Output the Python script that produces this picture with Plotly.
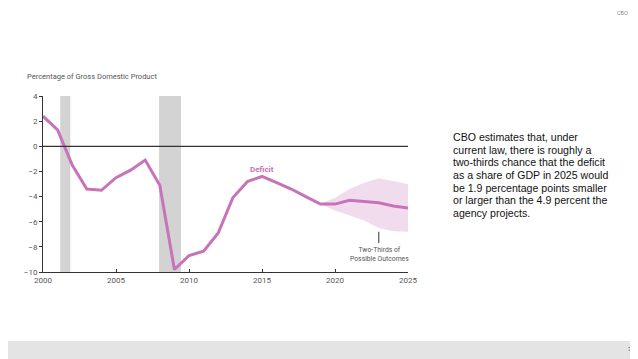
import plotly.graph_objects as go

years = list(range(2000, 2026))
deficit = [2.4, 1.3, -1.5, -3.4, -3.5, -2.5, -1.9, -1.1, -3.1, -9.8,
           -8.7, -8.35, -6.9, -4.1, -2.8, -2.4, -2.9, -3.4, -4.0, -4.6,
           -4.6, -4.3, -4.4, -4.5, -4.75, -4.9]
band_years = [2019, 2020, 2021, 2022, 2023, 2024, 2025]
band_upper = [-4.6, -4.1, -3.4, -2.9, -2.55, -2.75, -3.0]
band_lower = [-4.6, -5.1, -5.5, -5.9, -6.5, -6.75, -6.8]
recessions = [(2001.18, 2001.87), (2007.95, 2009.45)]
body_lines = ["CBO estimates that, under",
              "current law, there is roughly a",
              "two-thirds chance that the deficit",
              "as a share of GDP in 2025 would",
              "be 1.9 percentage points smaller",
              "or larger than the 4.9 percent the",
              "agency projects."]

pink = "#c873b9"
fig = go.Figure()

for x0, x1 in recessions:
    fig.add_shape(type="rect", xref="x", yref="y", x0=x0, x1=x1, y0=-10, y1=4,
                  fillcolor="#d3d3d3", line_width=0, layer="below")

fig.add_trace(go.Scatter(x=band_years, y=band_upper, mode="lines",
                         line=dict(width=0), showlegend=False, hoverinfo="skip"))
fig.add_trace(go.Scatter(x=band_years, y=band_lower, mode="lines", fill="tonexty",
                         fillcolor="rgba(232,196,226,0.6)", line=dict(width=0),
                         showlegend=False, hoverinfo="skip"))
fig.add_trace(go.Scatter(x=years, y=deficit, mode="lines",
                         line=dict(color=pink, width=3), showlegend=False))

fig.add_hline(y=0, line=dict(color="#333333", width=1.2))

tickfont = dict(family="Roboto", size=8, color="#555555")
# page body has an 8px margin: figure is shrunk so it still fits the window
W, H = 630, 351
L, R, T, B = 35, 230, 88, 87
PH = H - T - B
fig.update_layout(
    width=W, height=H,
    margin=dict(l=L, r=R, t=T, b=B),
    paper_bgcolor="white", plot_bgcolor="white",
    xaxis=dict(range=[2000, 2025], tickvals=[2000, 2005, 2010, 2015, 2020, 2025],
               showgrid=False, zeroline=False, showline=True, linecolor="#333333",
               linewidth=1, ticks="inside", ticklen=3, tickcolor="#333333",
               tickfont=tickfont),
    yaxis=dict(range=[-10, 4], tickvals=[4, 2, 0, -2, -4, -6, -8, -10],
               ticktext=["4", "2", "0", "−2", "−4", "−6", "−8", "−10"],
               showgrid=False, zeroline=False, showline=True, linecolor="#333333",
               linewidth=1, ticks="outside", ticklen=3, tickcolor="#333333",
               tickfont=tickfont),
)

def py(px_from_plot_top):
    return 1 - px_from_plot_top / PH

fig.add_annotation(xref="paper", yref="paper", x=-18 / 365, y=py(-20), xanchor="left",
                   yanchor="middle", showarrow=False,
                   text="Percentage of Gross Domestic Product",
                   font=dict(family="Roboto", size=7.5, color="#555555"))
fig.add_annotation(x=2015, y=-1.85, xref="x", yref="y", showarrow=False,
                   text="<b>Deficit</b>", font=dict(family="Roboto", size=8, color=pink))
fig.add_annotation(x=2023.05, y=-8.6, xref="x", yref="y", showarrow=False,
                   text="Two-Thirds of<br>Possible Outcomes", align="center",
                   font=dict(family="Roboto", size=6.8, color="#555555"))
fig.add_shape(type="line", xref="x", yref="y", x0=2023, x1=2023, y0=-6.8, y1=-7.7,
              line=dict(color="#333333", width=1))

for i, line in enumerate(body_lines):
    fig.add_annotation(xref="paper", yref="paper", x=408 / 365, y=py(41 + 12.67 * i),
                       xanchor="left", yanchor="middle", showarrow=False,
                       align="left", text=line,
                       font=dict(family="Liberation Sans", size=10.6, color="#111111"))

fig.add_shape(type="rect", xref="paper", yref="paper", x0=-0.2, x1=1.7,
              y0=py(PH + 88), y1=py(PH + 69), fillcolor="#e4e4e4", line_width=0,
              layer="below")
fig.add_annotation(xref="paper", yref="paper", x=587 / 365, y=py(PH + 77),
                   showarrow=False, xanchor="center", yanchor="middle",
                   text="3", font=dict(family="Liberation Sans", size=6, color="#666666"))
fig.add_annotation(xref="paper", yref="paper", x=579 / 365, y=py(-88),
                   showarrow=False, xanchor="center", yanchor="top",
                   text="CBO", font=dict(family="Liberation Sans", size=5, color="#888888"))

fig.write_html("out.html")
